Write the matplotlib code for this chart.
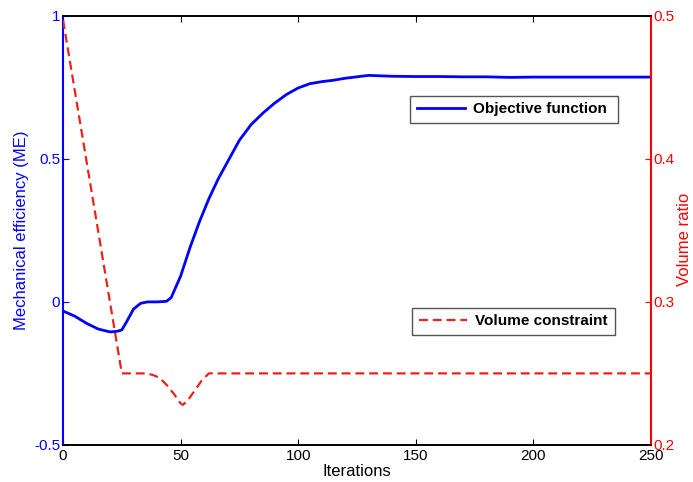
import matplotlib
matplotlib.use("Agg")
import matplotlib.pyplot as plt
from matplotlib.lines import Line2D

plt.rcParams['font.family'] = ['Liberation Sans', 'DejaVu Sans']

# objective function (mechanical efficiency), left axis
obj_iter = [0, 5, 10, 15, 20, 23, 25, 27, 30, 33, 36, 40, 44, 46, 50, 54, 58, 62, 66,
            70, 75, 80, 85, 90, 95, 100, 105, 110, 115, 120, 125, 130, 140, 150, 160,
            170, 180, 190, 200, 210, 220, 230, 240, 250]
obj_me = [-0.032, -0.05, -0.075, -0.095, -0.105, -0.103, -0.098, -0.07, -0.025, -0.005,
          0.0, 0.0, 0.002, 0.015, 0.09, 0.19, 0.28, 0.36, 0.43, 0.49, 0.565, 0.62, 0.66,
          0.695, 0.725, 0.748, 0.763, 0.77, 0.775, 0.782, 0.787, 0.792, 0.789, 0.788,
          0.788, 0.787, 0.787, 0.785, 0.786, 0.786, 0.786, 0.786, 0.786, 0.786]

# volume constraint, right axis
vol_iter = [0, 25, 30, 35, 38, 41, 44, 47, 50, 51, 53, 56, 59, 62, 100, 150, 200, 250]
vol_ratio = [0.497, 0.25, 0.25, 0.25, 0.249, 0.247, 0.242, 0.236, 0.229, 0.228, 0.231,
             0.238, 0.245, 0.25, 0.25, 0.25, 0.25, 0.25]

blue = '#0000ff'
red = '#ff0000'
dash_red = '#e8231c'

fig = plt.figure(figsize=(6.93, 4.82), dpi=100)
ax = fig.add_axes([0.091, 0.077, 0.848, 0.89])
ax2 = ax.twinx()

ax.plot(obj_iter, obj_me, color=blue, lw=2)
ax2.plot(vol_iter, vol_ratio, color=dash_red, lw=1.6, ls=(0, (4, 2.2)))

ax.set_xlim(0, 250)
ax.set_ylim(-0.5, 1)
ax2.set_ylim(0.2, 0.5)
ax.set_xticks([0, 50, 100, 150, 200, 250])
ax.set_yticks([-0.5, 0, 0.5, 1])
ax.set_yticklabels(['-0.5', '0', '0.5', '1'])
ax2.set_yticks([0.2, 0.3, 0.4, 0.5])

ax.tick_params(axis='x', direction='in', top=True, labelsize=11, length=4, pad=3)
ax.tick_params(axis='y', direction='in', colors=blue, labelsize=11, length=4, pad=2)
ax2.tick_params(axis='y', direction='in', colors=red, labelsize=11, length=4, pad=2)

ax.spines['left'].set_color(blue)
ax.spines['left'].set_linewidth(1.5)
ax2.spines['left'].set_visible(False)
ax2.spines['right'].set_color(red)
ax2.spines['right'].set_linewidth(1.5)
ax.spines['right'].set_visible(False)
for s in ['top', 'bottom']:
    ax.spines[s].set_linewidth(1.2)
    ax2.spines[s].set_linewidth(1.2)

ax.set_xlabel('Iterations', fontsize=12, labelpad=1)
ax.set_ylabel('Mechanical efficiency (ME)', color=blue, fontsize=12, labelpad=4)
ax2.set_ylabel('Volume ratio', color=red, fontsize=12)
ax2.yaxis.set_label_coords(1.045, 0.48)

h1 = Line2D([], [], color=blue, lw=2)
h2 = Line2D([], [], color=dash_red, lw=1.6, ls=(0, (4, 2.2)))
leg_kw = dict(prop={'weight': 'bold', 'size': 11}, fancybox=False, framealpha=1,
              edgecolor='#555555', handlelength=3.2, handletextpad=0.5,
              borderpad=0.45, mode='expand')
leg1 = fig.legend([h1], ['Objective function'], loc='lower left',
                  bbox_to_anchor=(402 / 693, 1 - 131 / 482, 224 / 693, 28 / 482), **leg_kw)
leg2 = fig.legend([h2], ['Volume constraint'], loc='lower left',
                  bbox_to_anchor=(404 / 693, 1 - 343 / 482, 219 / 693, 28 / 482), **leg_kw)
leg1.get_frame().set_linewidth(1.0)
leg2.get_frame().set_linewidth(1.0)

fig.savefig('out.png', dpi=100)
